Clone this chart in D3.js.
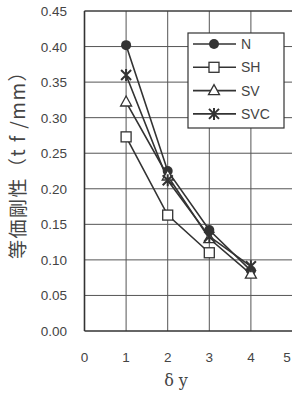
<!DOCTYPE html>
<html><head><meta charset="utf-8">
<script src="https://cdn.jsdelivr.net/npm/d3@7"></script>
<style>body{margin:0;background:#fff;}svg{display:block;}</style>
</head><body>
<script>
const xTicks = [0,1,2,3,4,5];
const yTicks = [0,0.05,0.10,0.15,0.20,0.25,0.30,0.35,0.40,0.45];
const seriesNames = ["N","SH","SV","SVC"];
const xN = [1,2,3,4], yN = [0.402,0.225,0.142,0.085];
const xSH = [1,2,3], ySH = [0.273,0.163,0.110];
const xSV = [1,2,3,4], ySV = [0.322,0.218,0.130,0.080];
const xSVC = [1,2,3,4], ySVC = [0.360,0.212,0.133,0.091];
const xLabel = "δ y";
const yLabel = "等価剛性（t f /mm）";

const W=292,H=394;
const svg=d3.select("body").append("svg").attr("width",W).attr("height",H);
const col="#333";
const x=d3.scaleLinear().domain([0,5]).range([84.5,292.5]);
const y=d3.scaleLinear().domain([0,0.45]).range([331,11]);

// grid
svg.append("g").selectAll("line").data(xTicks.slice(1)).join("line")
 .attr("x1",d=>x(d)).attr("x2",d=>x(d)).attr("y1",y(0)).attr("y2",y(0.45))
 .attr("stroke","#555").attr("stroke-width",1);
svg.append("g").selectAll("line").data(yTicks.slice(1)).join("line")
 .attr("x1",x(0)).attr("x2",x(5)).attr("y1",d=>y(d)).attr("y2",d=>y(d))
 .attr("stroke","#555").attr("stroke-width",1);
// frame
svg.append("line").attr("x1",x(0)).attr("x2",x(0)).attr("y1",y(0)).attr("y2",y(0.45)).attr("stroke",col).attr("stroke-width",1.6);
svg.append("line").attr("x1",x(0)).attr("x2",x(5)).attr("y1",y(0)).attr("y2",y(0)).attr("stroke",col).attr("stroke-width",1.6);
svg.append("line").attr("x1",x(0)).attr("x2",x(5)).attr("y1",y(0.45)).attr("y2",y(0.45)).attr("stroke",col).attr("stroke-width",1.2);

// tick labels
const tf="Liberation Sans, Arial, sans-serif";
svg.append("g").selectAll("text").data(yTicks).join("text")
 .attr("x",67).attr("y",d=>y(d)+5).attr("text-anchor","end")
 .attr("font-family",tf).attr("font-size",13.5).attr("fill","#444")
 .text(d=>d3.format(".2f")(d));
svg.append("g").selectAll("text").data(xTicks).join("text")
 .attr("x",d=>Math.min(x(d),W-5)).attr("y",362).attr("text-anchor","middle")
 .attr("font-family",tf).attr("font-size",13.5).attr("fill","#444")
 .text(d=>d);
svg.append("text").attr("x",x(2.2)).attr("y",386).attr("text-anchor","middle")
 .attr("font-family","DejaVu Serif, serif").attr("font-size",16).attr("fill","#444").text(xLabel);
svg.append("text").attr("transform","translate(25,160) rotate(-90)").attr("text-anchor","middle")
 .attr("font-family","Noto Sans CJK JP, sans-serif").attr("font-size",19).attr("letter-spacing",1.5).attr("fill","#444").text(yLabel);

// markers
function marker(g,type,cx,cy){
  if(type==="N"){g.append("circle").attr("cx",cx).attr("cy",cy).attr("r",5).attr("fill",col);}
  else if(type==="SH"){g.append("rect").attr("x",cx-5).attr("y",cy-5).attr("width",10).attr("height",10).attr("fill","#fff").attr("stroke",col).attr("stroke-width",1.3);}
  else if(type==="SV"){g.append("path").attr("d",`M${cx},${cy-6}L${cx+5.5},${cy+4}L${cx-5.5},${cy+4}Z`).attr("fill","#fff").attr("stroke",col).attr("stroke-width",1.3);}
  else {g.append("path").attr("d",`M${cx-5},${cy-5}L${cx+5},${cy+5}M${cx+5},${cy-5}L${cx-5},${cy+5}M${cx},${cy-6}L${cx},${cy+6}`).attr("stroke",col).attr("stroke-width",2);}
}
const series=[["N",xN,yN],["SH",xSH,ySH],["SV",xSV,ySV],["SVC",xSVC,ySVC]];
const line=d3.line().x(d=>x(d[0])).y(d=>y(d[1]));
series.forEach(([n,xs,ys])=>{
  const pts=xs.map((v,i)=>[v,ys[i]]);
  svg.append("path").attr("d",line(pts)).attr("fill","none").attr("stroke",col).attr("stroke-width",1.6);
});
series.forEach(([n,xs,ys])=>{
  const g=svg.append("g");
  xs.forEach((v,i)=>marker(g,n,x(v),y(ys[i])));
});

// legend
const lg=svg.append("g");
lg.append("rect").attr("x",188).attr("y",33).attr("width",96).attr("height",95).attr("fill","#fff").attr("stroke",col).attr("stroke-width",1.2);
seriesNames.forEach((n,i)=>{
  const yy=44+i*23.3;
  lg.append("line").attr("x1",193).attr("x2",236).attr("y1",yy).attr("y2",yy).attr("stroke",col).attr("stroke-width",1.6);
  marker(lg,n,214,yy);
  lg.append("text").attr("x",241).attr("y",yy+5).attr("font-family",tf).attr("font-size",14).attr("fill","#444").text(n);
});
</script>
</body></html>
